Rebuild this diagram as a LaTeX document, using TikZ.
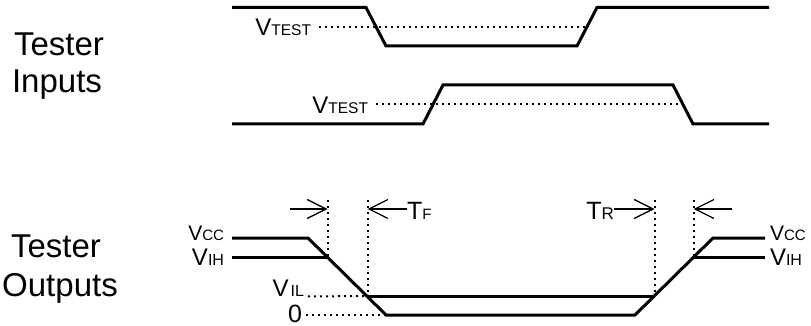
\documentclass[tikz,border=0pt]{standalone}
\usepackage{fontspec}
\setmainfont{Liberation Sans}
\usetikzlibrary{arrows.meta}
\newcommand\siglab[4]{{\fontsize{#1}{#1}\selectfont #3}{\fontsize{#2}{#2}\selectfont #4}}
\tikzset{
  sigline/.style={line width=3pt, line join=miter},
  guide/.style={line width=2pt, dash pattern=on 2pt off 4pt},
  dimarrow/.style={line width=1.3pt, -{Straight Barb[length=19pt,width=19pt,line width=1.3pt]}},
  lab/.style={inner sep=0pt, outer sep=0pt},
  title/.style={inner sep=0pt, anchor=base, font=\fontsize{33}{33}\selectfont}
}
\begin{document}
\begin{tikzpicture}[x=1pt,y=-1pt]
\useasboundingbox (0,0) rectangle (811,326);
% titles
\node[title] (ti1) at (59,56) {Tester};
\node[title] (ti2) at (57,93) {Inputs};
\node[title] (to1) at (56,257) {Tester};
\node[title] (to2) at (60,296) {Outputs};
% tester inputs
\draw[sigline] (232,7.5) -- (366,7.5) -- (386,46) -- (577,46) -- (597,7.5) -- (769,7.5);
\draw[sigline] (232,124) -- (423,124) -- (443,85) -- (673,85) -- (693,124) -- (769,124);
\node[lab, anchor=base east] (vt1) at (311,36) {\siglab{24}{15.5}{V}{TEST}};
\node[lab, anchor=base east] (vt2) at (368,114) {\siglab{24}{15.5}{V}{TEST}};
\coordinate (vt1e) at (587,27);
\coordinate (vt2e) at (683,104.5);
\draw[guide] ([xshift=8pt]vt1.east |- vt1e) -- (vt1e);
\draw[guide] ([xshift=8pt]vt2.east |- vt2e) -- (vt2e);
% tester outputs
\draw[sigline] (232,238) -- (308,238) -- (386,315) -- (635,315) -- (713,238) -- (765,238);
\coordinate (ihL) at (327.5,257);
\coordinate (ilL) at (367.5,296);
\coordinate (ilR) at (654.5,296);
\coordinate (ihR) at (693.5,257);
\draw[sigline] (232,257) -- (ihL);
\draw[sigline] (ilL) -- (ilR);
\draw[sigline] (ihR) -- (765,257);
% labels
\node[lab, anchor=base east] (vccL) at (224,240) {\siglab{21}{15}{V}{CC}};
\node[lab, anchor=base east] (vihL) at (224,265) {\siglab{24}{16}{V}{IH}};
\node[lab, anchor=base west] (vccR) at (770,240) {\siglab{21}{15}{V}{CC}};
\node[lab, anchor=base west] (vihR) at (770,265) {\siglab{24}{16}{V}{IH}};
\node[lab, anchor=base east] (vil) at (304,296.5) {\siglab{24}{16}{V\hspace{2pt}}{IL}};
\node[lab, anchor=base east] (zero) at (302,322) {\fontsize{25}{25}\selectfont 0};
\coordinate (zeroE) at (386,315);
\draw[guide] ([xshift=4pt]vil.base east) -- (ilL);
\draw[guide] ([xshift=4pt]zero.east |- zeroE) -- (zeroE);
% dotted verticals
\coordinate (d1) at (327.5,200);
\coordinate (d2) at (367.5,200);
\coordinate (d3) at (654.5,200);
\coordinate (d4) at (693.5,200);
\draw[guide] (d1) -- (ihL);
\draw[guide] (d2) -- (ilL);
\draw[guide] (d3) -- (ilR);
\draw[guide] (d4) -- (ihR);
% arrows
\node[lab, anchor=base west] (tf) at (407,219) {\siglab{25}{15}{T}{F}};
\node[lab, anchor=base east] (tr) at (614,219) {\siglab{25}{17}{T}{R}};
\coordinate (a1s) at (290,209);
\coordinate (a1e) at (327.5,209);
\coordinate (a2e) at (367.5,209);
\coordinate (a3e) at (654.5,209);
\coordinate (a4s) at (732,209);
\coordinate (a4e) at (693.5,209);
\draw[dimarrow] (a1s) -- (a1e);
\draw[dimarrow] (tf.west |- a2e) -- (a2e);
\draw[dimarrow] (tr.east |- a3e) -- (a3e);
\draw[dimarrow] (a4s) -- (a4e);
\end{tikzpicture}
\end{document}
